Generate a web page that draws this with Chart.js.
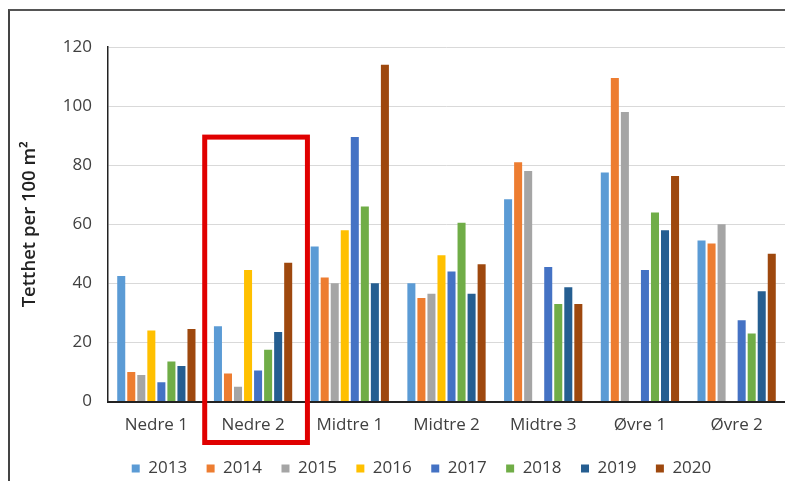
<!DOCTYPE html>
<html>
<head>
<meta charset="utf-8">
<script src="https://cdn.jsdelivr.net/npm/chart.js@4"></script>
<style>
  html, body { margin: 0; padding: 0; background: #fff; overflow: hidden; }
  #wrap { position: relative; width: 785px; height: 481px; overflow: hidden; }
  #frame { position: absolute; left: 8px; top: 9px; width: 900px; height: 600px; border-left: 2px solid #444; border-top: 2px solid #555; }
  canvas { position: absolute; left: 0; top: 0; }
</style>
</head>
<body>
<div id="wrap">
  <div id="frame"></div>
  <canvas id="c" width="785" height="481"></canvas>
</div>
<script>
const categories = ['Nedre 1', 'Nedre 2', 'Midtre 1', 'Midtre 2', 'Midtre 3', 'Øvre 1', 'Øvre 2'];
const years = ['2013', '2014', '2015', '2016', '2017', '2018', '2019', '2020'];
const v2013 = [42.5, 25.5, 52.5, 40, 68.5, 77.5, 54.5];
const v2014 = [10, 9.5, 42, 35, 81, 109.5, 53.5];
const v2015 = [9, 5, 40, 36.5, 78, 98, 60];
const v2016 = [24, 44.5, 58, 49.5, null, null, null];
const v2017 = [6.5, 10.5, 89.5, 44, 45.5, 44.5, 27.5];
const v2018 = [13.5, 17.5, 66, 60.5, 33, 64, 23];
const v2019 = [12, 23.5, 40, 36.5, 38.7, 58, 37.3];
const v2020 = [24.5, 47, 114, 46.5, 33, 76.3, 50];
const yTicks = [0, 20, 40, 60, 80, 100, 120];
const yTitle = 'Tetthet per 100 m²';
const highlightCategory = 'Nedre 2';
const highlightTop = 89.5;

const seriesValues = [v2013, v2014, v2015, v2016, v2017, v2018, v2019, v2020];
const colors = ['#5B9BD5', '#ED7D31', '#A5A5A5', '#FFC000', '#4472C4', '#70AD47', '#255E91', '#9E480E'];

const FONT = "'Open Sans', 'Liberation Sans', sans-serif";

const highlightPlugin = {
  id: 'highlight',
  afterDraw(chart) {
    const xs = chart.scales.x, ys = chart.scales.y;
    const idx = categories.indexOf(highlightCategory);
    const catW = (xs.right - xs.left) / categories.length;
    const cx = xs.getPixelForValue(idx);
    const ctx = chart.ctx;
    ctx.save();
    ctx.strokeStyle = '#E00000';
    ctx.lineWidth = 5;
    const l = cx - catW / 2, r = cx + catW / 2 + 6;
    const t = ys.getPixelForValue(highlightTop), b = ys.bottom + 41;
    ctx.strokeRect(l, t, r - l, b - t);
    ctx.restore();
  }
};

const legendShift = {
  id: 'legendShift',
  afterLayout(chart) {
    const lg = chart.legend;
    if (lg) { lg.left += 22; lg.right += 22; lg.top += 6; lg.bottom += 6; }
  }
};

new Chart(document.getElementById('c'), {
  type: 'bar',
  data: {
    labels: categories,
    datasets: years.map((y, i) => ({
      label: y,
      data: seriesValues[i],
      backgroundColor: colors[i],
      borderWidth: 0,
      categoryPercentage: 0.83,
      barPercentage: 0.8
    }))
  },
  options: {
    responsive: false,
    animation: false,
    layout: { padding: { left: 14, right: 0, top: 47, bottom: 0 } },
    plugins: {
      tooltip: { enabled: false },
      legend: {
        position: 'bottom',
        labels: {
          boxWidth: 8, boxHeight: 8, padding: 19.5,
          color: '#404040',
          font: { family: FONT, size: 17 }
        }
      }
    },
    scales: {
      x: {
        afterFit(scale) { scale.height = 33; },
        grid: { display: false, drawTicks: false },
        border: { display: true, color: '#222', width: 2 },
        ticks: { color: '#404040', font: { family: FONT, size: 17 }, padding: 13 }
      },
      y: {
        min: 0, max: 120,
        afterBuildTicks(scale) { scale.ticks = yTicks.map(v => ({ value: v })); },
        afterFit(scale) { scale.width = 94; },
        grid: { color: '#D9D9D9', lineWidth: 1, drawTicks: false },
        border: { display: true, color: '#222', width: 1.5 },
        ticks: { color: '#404040', font: { family: FONT, size: 17 }, padding: 16 },
        title: {
          display: true, text: yTitle, color: '#222',
          font: { family: FONT, size: 18.5, weight: '600' },
          padding: { top: 5, bottom: 0 }
        }
      }
    }
  },
  plugins: [highlightPlugin, legendShift]
});
</script>
</body>
</html>
